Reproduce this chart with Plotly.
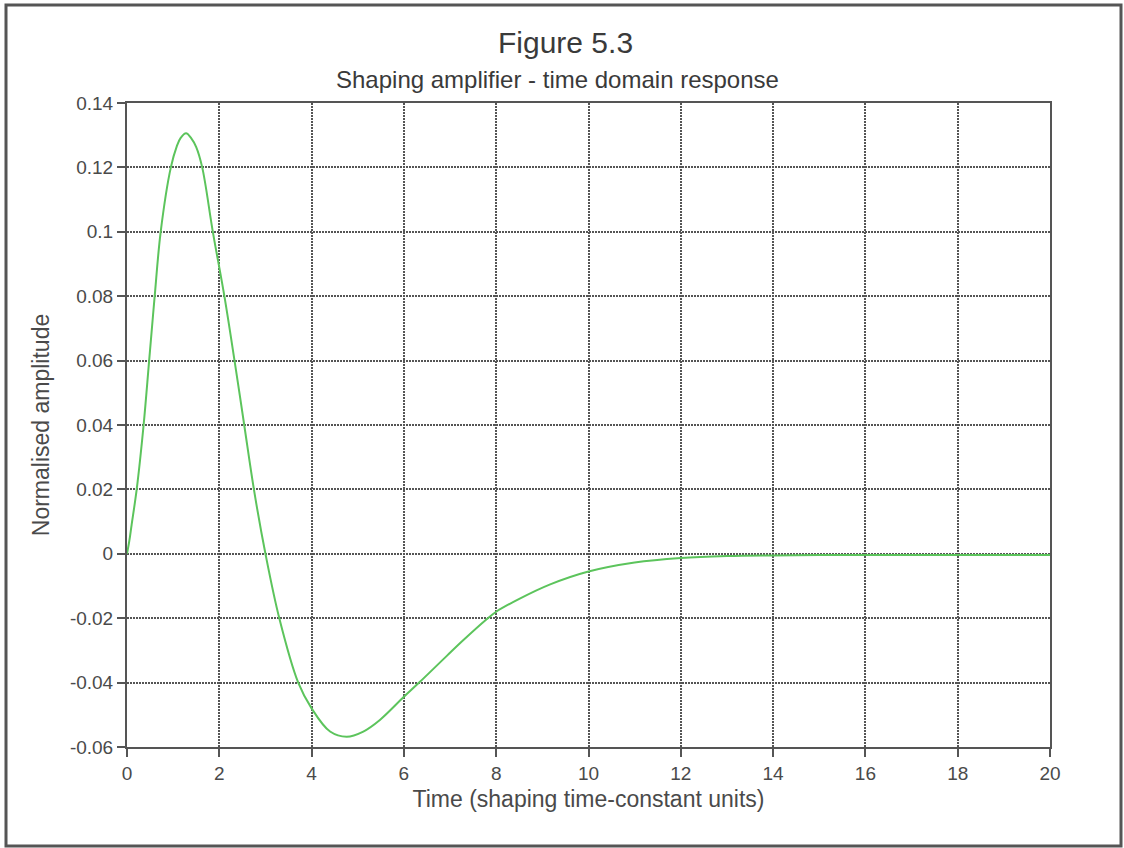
import plotly.graph_objects as go

# Shaping amplifier impulse response (time in shaping time-constant units)
time_units = [0, 0.05, 0.1, 0.21, 0.36, 0.48, 0.6, 0.73, 0.95, 1.08, 1.16,
              1.28, 1.39, 1.5, 1.63, 1.86, 2.11, 2.33, 2.54, 2.75, 3.0, 3.3,
              3.71, 4.0, 4.4, 4.76, 5.12, 5.48, 6.0, 6.33, 6.93, 7.29, 7.78,
              8.0, 8.5, 9.17, 10, 11, 12, 13, 14, 15, 16, 18, 20]
amplitude = [0, 0.004, 0.009, 0.02, 0.04, 0.06, 0.08, 0.10, 0.12, 0.1266,
             0.1291, 0.1306, 0.1291, 0.1263, 0.12, 0.10, 0.08, 0.06, 0.04,
             0.02, 0, -0.02, -0.04, -0.048, -0.0552, -0.0568, -0.0552,
             -0.0516, -0.0444, -0.04, -0.0317, -0.0268, -0.0205, -0.018,
             -0.014, -0.0095, -0.0055, -0.0027, -0.0013, -0.0007, -0.0005,
             -0.0004, -0.0004, -0.0004, -0.0004]

x_ticks = [0, 2, 4, 6, 8, 10, 12, 14, 16, 18, 20]
y_ticks = [0.14, 0.12, 0.10, 0.08, 0.06, 0.04, 0.02, 0, -0.02, -0.04, -0.06]
y_tick_text = ["0.14", "0.12", "0.1", "0.08", "0.06", "0.04", "0.02", "0",
               "-0.02", "-0.04", "-0.06"]

FONT = "Liberation Sans, Arial, Helvetica, sans-serif"
INK = "#4a4a4a"

fig = go.Figure()
fig.add_trace(go.Scatter(
    x=time_units, y=amplitude, mode="lines",
    line=dict(color="#5cc45c", width=2, shape="spline", smoothing=1.0),
    showlegend=False, hoverinfo="skip",
))

axis_common = dict(
    showline=True, linecolor="#555555", linewidth=2, mirror=True,
    showgrid=True, gridcolor="#555555", gridwidth=1.5, griddash="2px,1px",
    zeroline=False, ticks="outside", ticklen=8, tickwidth=2,
    tickcolor="#555555", tickfont=dict(family=FONT, size=19, color=INK),
)

fig.update_xaxes(
    range=[0, 20], tickvals=x_ticks, ticktext=[str(v) for v in x_ticks],
    title=dict(text="Time (shaping time-constant units)",
               font=dict(family=FONT, size=23, color=INK), standoff=8),
    **axis_common,
)
fig.update_yaxes(
    range=[-0.06, 0.14], tickvals=y_ticks, ticktext=y_tick_text,
    title=dict(text="Normalised amplitude",
               font=dict(family=FONT, size=23, color=INK), standoff=14),
    **axis_common,
)

fig.update_layout(
    width=1124, height=848,
    margin=dict(l=127, r=74, t=103, b=101),
    paper_bgcolor="white", plot_bgcolor="white",
    font=dict(family=FONT, color=INK),
    annotations=[
        dict(text="Figure 5.3", xref="paper", yref="paper",
             x=(565 - 127) / 923, y=(747 - 43) / 644,
             xanchor="center", yanchor="middle", showarrow=False,
             font=dict(family=FONT, size=30, color="#3a3a3a")),
        dict(text="Shaping amplifier - time domain response",
             xref="paper", yref="paper",
             x=(557 - 127) / 923, y=(747 - 80) / 644,
             xanchor="center", yanchor="middle", showarrow=False,
             font=dict(family=FONT, size=24, color="#3a3a3a")),
    ],
    shapes=[
        # outer frame around the whole figure
        dict(type="rect", xref="paper", yref="paper",
             x0=(6 - 127) / 923, x1=(1121 - 127) / 923,
             y0=(747 - 846) / 644, y1=(747 - 5) / 644,
             line=dict(color="#555555", width=3), layer="below"),
    ],
)

fig.write_html("out.html")
